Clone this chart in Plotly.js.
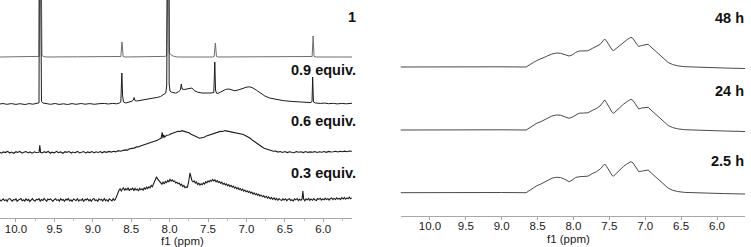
<!DOCTYPE html>
<html><head><meta charset="utf-8">
<script src="https://cdn.plot.ly/plotly-3.0.1.min.js"></script>
<style>html,body{margin:0;padding:0;background:#fff;} #chart{width:751px;height:247px;}</style>
</head><body><div id="chart"></div><script>
// ---------- data (ppm, relative intensity) ----------
const leftLabels = ["1", "0.9 equiv.", "0.6 equiv.", "0.3 equiv."];
const rightLabels = ["48 h", "24 h", "2.5 h"];
const tickVals = [10.0, 9.5, 9.0, 8.5, 8.0, 7.5, 7.0, 6.5, 6.0];
const tickText = ["10.0", "9.5", "9.0", "8.5", "8.0", "7.5", "7.0", "6.5", "6.0"];
const axisTitle = "f1 (ppm)";

const spec1 = [[10.21,0],[9.80,0.2],[9.72,0],[9.70,0.6],[9.686,250],[9.672,250],[9.662,1.5],[9.64,0.5],[9.60,0],[9.2,0.2],[8.66,0],[8.635,0.5],[8.62,15],[8.605,0.5],[8.58,0],[8.3,0.2],[8.10,0],[8.06,0.6],[8.04,1.5],[8.031,250],[8.015,250],[8.004,4],[7.99,2.5],[7.97,1.5],[7.94,0.6],[7.90,0],[7.44,0],[7.42,0.5],[7.405,14],[7.39,0.5],[7.37,0],[6.8,0.2],[6.17,0],[6.145,0.5],[6.132,21],[6.12,0.5],[6.09,0],[5.62,0]];

const spec09 = [[10.21,0],[10.17,0.5],[10.12,-0.3],[10.06,0.4],[10.0,-0.4],[9.95,0.3],[9.88,-0.5],[9.83,0.4],[9.78,-0.2],[9.72,0.4],[9.70,1.2],[9.693,300],[9.677,300],[9.668,2.5],[9.65,1],[9.60,0.4],[9.55,-0.3],[9.49,0.5],[9.44,-0.4],[9.38,0.2],[9.33,-0.5],[9.27,0.4],[9.22,-0.3],[9.15,0.5],[9.10,-0.2],[9.04,0.4],[8.98,-0.3],[8.92,0.3],[8.85,0.6],[8.80,0],[8.74,0.6],[8.69,0.2],[8.66,0.7],[8.635,2],[8.622,31],[8.612,8],[8.60,2],[8.57,1],[8.53,1.6],[8.49,2.8],[8.472,4],[8.462,6.5],[8.452,3.5],[8.43,3],[8.40,3.4],[8.35,4],[8.30,4.4],[8.25,5],[8.21,5.8],[8.16,6.6],[8.12,7.4],[8.08,9],[8.05,11],[8.038,18],[8.030,300],[8.014,300],[8.006,20],[7.995,13],[7.98,12],[7.95,11],[7.92,10.8],[7.88,12.5],[7.86,14],[7.848,20],[7.838,15],[7.81,14.5],[7.77,14.8],[7.73,15.2],[7.71,16],[7.68,13.5],[7.64,12],[7.58,11],[7.52,10.8],[7.46,11],[7.425,11.5],[7.412,42],[7.402,14],[7.39,10.8],[7.37,10.6],[7.32,12.2],[7.27,14.6],[7.23,15],[7.19,14],[7.15,13.2],[7.10,14.2],[7.05,15.8],[7.00,16.8],[6.96,17.2],[6.92,16.2],[6.87,13.8],[6.82,10.8],[6.76,8],[6.70,6],[6.62,4.6],[6.52,3.4],[6.42,2.6],[6.32,2],[6.22,1.5],[6.16,1.4],[6.146,3],[6.138,27],[6.128,2],[6.10,1],[6.04,0.6],[5.98,0.9],[5.93,0.3],[5.87,0.7],[5.82,0.1],[5.76,0.6],[5.70,0.2],[5.62,0.8]];

const spec06 = [[10.21,0],[10.19,-0.9],[10.16,0.4],[10.14,-0.3],[10.11,0.9],[10.08,-0.7],[10.06,0.2],[10.03,-1.0],[10.00,0.6],[9.98,-0.2],[9.95,0.8],[9.92,-0.8],[9.90,0.1],[9.87,0.7],[9.84,-0.6],[9.82,0.4],[9.79,-0.9],[9.76,0.5],[9.74,-0.2],[9.71,0.3],[9.70,0],[9.69,7],[9.68,0],[9.66,-0.7],[9.63,0.6],[9.61,-0.3],[9.58,0.8],[9.55,-0.9],[9.53,0.2],[9.50,-0.5],[9.47,0.9],[9.45,-0.4],[9.42,0.4],[9.39,-1.0],[9.36,0.6],[9.34,0.0],[9.31,0.8],[9.28,-0.7],[9.26,0.3],[9.23,-0.4],[9.20,0.9],[9.17,-0.6],[9.15,0.1],[9.12,0.7],[9.09,-0.8],[9.07,0.4],[9.04,-0.3],[9.01,0.8],[8.98,-0.6],[8.96,0.5],[8.93,-0.2],[8.90,0.7],[8.88,-0.5],[8.85,0.6],[8.82,0.0],[8.79,0.9],[8.76,0.2],[8.73,1.0],[8.70,0.4],[8.67,1.6],[8.64,1.1],[8.61,2.0],[8.58,2.4],[8.55,2.2],[8.52,3.5],[8.49,3.9],[8.46,4.2],[8.43,5.4],[8.40,5.5],[8.37,6.6],[8.34,7.4],[8.31,7.6],[8.28,9.0],[8.25,9.6],[8.22,10.6],[8.19,11.4],[8.16,12.0],[8.13,13.4],[8.11,14.2],[8.097,20],[8.087,14.2],[8.077,17.5],[8.065,15.2],[8.04,17.0],[8.01,17.3],[7.98,18.6],[7.95,19.6],[7.92,19.8],[7.89,21.0],[7.86,20.8],[7.84,21.6],[7.81,20.9],[7.78,20.2],[7.75,19.6],[7.72,18.0],[7.69,16.9],[7.66,16.1],[7.63,14.7],[7.61,14.1],[7.58,14.6],[7.55,15.0],[7.52,16.4],[7.49,17.1],[7.46,17.6],[7.43,19.0],[7.40,19.4],[7.37,20.3],[7.34,20.9],[7.31,20.8],[7.28,21.7],[7.25,21.2],[7.22,20.7],[7.19,20.9],[7.16,19.7],[7.13,19.5],[7.10,18.9],[7.07,18.3],[7.04,17.9],[7.01,16.6],[6.98,15.5],[6.95,14.0],[6.92,12.0],[6.89,10.2],[6.86,8.8],[6.83,6.8],[6.80,5.6],[6.77,4.0],[6.74,3.4],[6.71,2.2],[6.68,1.9],[6.65,1.0],[6.62,1.2],[6.59,0.2],[6.56,0.8],[6.53,-0.1],[6.50,0.7],[6.47,-0.3],[6.44,0.6],[6.41,0.2],[6.38,-0.4],[6.35,0.7],[6.32,0.0],[6.29,0.5],[6.26,-0.3],[6.23,0.8],[6.20,-0.1],[6.17,0.4],[6.14,0.1],[6.11,0.7],[6.08,-0.2],[6.05,0.6],[6.02,0.1],[5.99,0.8],[5.96,0.0],[5.93,0.9],[5.90,0.3],[5.87,0.6],[5.84,1.0],[5.81,0.3],[5.78,1.1],[5.75,0.5],[5.72,1.2],[5.69,0.6],[5.66,1.3],[5.63,0.9]];

const spec03 = [[10.21,0.4],[10.195,-1.0],[10.18,0.2],[10.165,1.1],[10.15,-0.6],[10.13,0.3],[10.115,-1.4],[10.10,0.9],[10.08,1.4],[10.065,-0.4],[10.05,-1.2],[10.03,0.6],[10.015,-0.1],[10.00,1.2],[9.985,-1.3],[9.97,-0.2],[9.95,0.9],[9.935,1.5],[9.92,-0.7],[9.90,0.2],[9.885,-1.1],[9.87,1.0],[9.85,-0.4],[9.835,0.6],[9.82,-1.5],[9.80,0.8],[9.785,1.3],[9.77,-0.3],[9.75,-1.0],[9.735,0.7],[9.72,0.1],[9.70,1.3],[9.685,-1.2],[9.67,0.4],[9.65,-0.5],[9.635,1.6],[9.62,-0.2],[9.60,-1.3],[9.585,0.9],[9.57,0.2],[9.55,1.1],[9.535,-0.8],[9.52,-1.4],[9.50,0.6],[9.485,1.2],[9.47,-0.4],[9.45,0.3],[9.435,-1.1],[9.42,1.4],[9.40,-0.2],[9.385,0.5],[9.37,-1.3],[9.35,0.9],[9.335,-0.1],[9.32,1.5],[9.30,-0.9],[9.285,0.1],[9.27,-1.4],[9.25,1.0],[9.235,0.4],[9.22,-0.6],[9.20,1.3],[9.185,-1.1],[9.17,0.2],[9.15,-0.3],[9.135,1.2],[9.12,-1.5],[9.10,0.7],[9.085,0.0],[9.07,1.4],[9.05,-0.8],[9.035,0.5],[9.02,-1.2],[9.00,0.9],[8.985,1.6],[8.97,-0.5],[8.95,0.1],[8.935,-1.3],[8.92,1.1],[8.90,-0.1],[8.885,0.8],[8.87,-1.0],[8.85,1.5],[8.835,-0.6],[8.82,0.3],[8.80,-1.2],[8.785,1.2],[8.77,0.2],[8.75,-0.9],[8.735,1.4],[8.72,-0.3],[8.705,0.9],[8.69,4],[8.675,7.5],[8.66,9.5],[8.645,11.2],[8.63,9.0],[8.615,10.8],[8.60,12.0],[8.585,9.6],[8.57,11.4],[8.555,10.1],[8.54,12.2],[8.525,9.3],[8.51,11.0],[8.495,10.4],[8.48,12.1],[8.465,9.2],[8.45,11.6],[8.435,10.0],[8.42,10.9],[8.405,8.9],[8.39,11.7],[8.375,10.2],[8.36,11.2],[8.345,9.8],[8.33,12.4],[8.315,10.6],[8.30,12.9],[8.285,11.4],[8.27,13.1],[8.255,12.2],[8.24,14.6],[8.225,13.3],[8.21,16.5],[8.195,18.6],[8.18,21.2],[8.17,23.2],[8.16,21.4],[8.145,20.2],[8.13,18.0],[8.115,17.1],[8.10,15.8],[8.085,17.9],[8.07,16.0],[8.055,18.6],[8.04,17.4],[8.025,19.5],[8.01,18.3],[7.995,20.6],[7.98,18.9],[7.965,20.2],[7.95,18.4],[7.935,19.1],[7.92,17.0],[7.905,17.8],[7.89,16.2],[7.875,16.9],[7.86,14.7],[7.845,15.8],[7.83,13.4],[7.815,14.6],[7.80,12.4],[7.785,13.1],[7.77,12.6],[7.755,17],[7.745,22],[7.735,27],[7.725,24],[7.71,19.5],[7.695,18.2],[7.68,19.1],[7.665,16.9],[7.65,18.0],[7.635,15.6],[7.62,16.9],[7.605,15.0],[7.59,16.3],[7.575,15.4],[7.56,17.2],[7.545,16.0],[7.53,18.3],[7.515,17.1],[7.50,19.2],[7.485,18.0],[7.47,19.6],[7.455,18.7],[7.44,20.6],[7.425,19.0],[7.41,20.1],[7.395,18.2],[7.38,19.4],[7.365,17.6],[7.35,18.4],[7.335,16.6],[7.32,17.9],[7.305,15.7],[7.29,16.9],[7.275,15.0],[7.26,16.1],[7.245,14.2],[7.23,15.4],[7.215,13.5],[7.20,14.7],[7.185,12.8],[7.17,13.9],[7.155,11.9],[7.14,13.0],[7.125,11.2],[7.11,12.3],[7.095,10.4],[7.08,11.5],[7.065,9.6],[7.05,10.9],[7.035,8.9],[7.02,10.0],[7.005,8.3],[6.99,9.2],[6.975,7.5],[6.96,8.6],[6.945,6.8],[6.93,7.9],[6.915,6.0],[6.90,7.2],[6.885,5.3],[6.87,6.4],[6.855,4.6],[6.84,5.9],[6.825,3.8],[6.81,5.0],[6.79,3.2],[6.775,4.4],[6.76,2.5],[6.74,3.7],[6.725,1.8],[6.71,3.2],[6.69,1.2],[6.675,2.6],[6.66,0.6],[6.64,2.1],[6.625,0.2],[6.61,1.7],[6.59,-0.3],[6.575,1.5],[6.56,0.4],[6.54,-0.6],[6.525,1.3],[6.51,0.0],[6.49,1.2],[6.475,-0.8],[6.46,0.6],[6.44,1.4],[6.425,-0.4],[6.41,0.3],[6.39,-0.9],[6.375,1.1],[6.36,0.2],[6.34,1.5],[6.325,-0.6],[6.31,0.7],[6.29,-0.2],[6.275,1.3],[6.265,9],[6.255,0.8],[6.24,-0.7],[6.225,1.2],[6.21,0.1],[6.19,1.6],[6.175,-0.4],[6.16,0.9],[6.14,-0.2],[6.125,1.5],[6.11,0.3],[6.09,-0.5],[6.075,1.4],[6.06,0.6],[6.04,1.8],[6.025,-0.1],[6.01,1.0],[5.99,0.2],[5.975,1.9],[5.96,0.4],[5.94,1.5],[5.925,-0.2],[5.91,1.2],[5.89,2.0],[5.875,0.3],[5.86,1.6],[5.84,0.6],[5.825,2.2],[5.81,0.9],[5.79,1.6],[5.775,0.4],[5.76,2.3],[5.74,1.0],[5.725,2.6],[5.71,0.8],[5.69,2.1],[5.675,1.3],[5.66,2.8],[5.645,1.2],[5.63,2.2]];

const spec48h = [[10.41,0],[10.0,0.2],[9.5,0],[9.0,0.2],[8.66,0],[8.62,2],[8.56,4.5],[8.51,6.5],[8.45,8],[8.38,10.5],[8.30,13],[8.24,14],[8.18,13.7],[8.12,12.5],[8.06,11],[8.02,12],[7.97,14.5],[7.92,16],[7.86,16.2],[7.80,16.2],[7.74,18.5],[7.68,20.5],[7.63,22.5],[7.59,26],[7.565,28],[7.54,26],[7.50,21],[7.46,17],[7.44,16.5],[7.40,19],[7.35,22],[7.30,25],[7.25,27.5],[7.20,29.7],[7.17,28.5],[7.13,24],[7.09,20.5],[7.05,21.5],[7.00,22.5],[6.96,22.7],[6.92,20],[6.86,16],[6.80,12],[6.74,8],[6.68,4.5],[6.62,2.5],[6.55,1.2],[6.45,0.3],[6.2,-0.5],[5.9,-1],[5.61,-1.5]];
const spec24h = [[10.41,0],[10.0,0.2],[9.5,0],[9.0,0.2],[8.66,0],[8.62,2],[8.56,4.5],[8.51,6.8],[8.45,8.5],[8.38,11],[8.30,14],[8.24,15],[8.18,14.8],[8.12,13.2],[8.06,11.7],[8.02,12.8],[7.97,15.2],[7.92,16.8],[7.86,17],[7.80,17.2],[7.74,19.5],[7.68,21.5],[7.63,24],[7.59,28],[7.565,30],[7.54,27.5],[7.50,22],[7.46,17.5],[7.44,16.7],[7.40,19.5],[7.35,23],[7.30,26],[7.25,28.5],[7.20,30.7],[7.17,29.5],[7.13,24.5],[7.09,21],[7.05,22],[7.00,22.6],[6.96,22.7],[6.92,20],[6.86,16],[6.80,12],[6.74,8],[6.68,4.5],[6.62,2.5],[6.55,1.2],[6.45,0.3],[6.2,-0.5],[5.9,-1],[5.61,-1.5]];
const spec25h = [[10.41,0],[10.0,0.2],[9.5,0],[9.0,0.2],[8.66,0],[8.62,2],[8.56,4.8],[8.51,7],[8.45,8.8],[8.38,11.5],[8.30,14.5],[8.24,15.4],[8.18,15.2],[8.12,13.4],[8.06,11],[8.02,12.5],[7.97,15.2],[7.92,16],[7.86,16.2],[7.80,16.5],[7.74,19],[7.68,21],[7.63,23.5],[7.59,26.8],[7.565,28.7],[7.54,26.5],[7.50,21],[7.46,17],[7.44,16.7],[7.40,19.8],[7.35,23.5],[7.30,26.5],[7.25,29],[7.20,31],[7.17,29.8],[7.13,25],[7.09,21],[7.05,21.5],[7.00,22.5],[6.96,22.7],[6.92,20],[6.86,16],[6.80,12],[6.74,8],[6.68,4.5],[6.62,2.5],[6.55,1.2],[6.45,0.3],[6.2,-0.4],[5.9,-0.9],[5.61,-1.3]];

// ---------- placement / style (not data) ----------
const W = 751, H = 247;
const leftOffsets = [161, 114, 65.7, 18];
const rightOffsets = [148.5, 85.5, 22.8];
const leftColors = ["#6e6e6e", "#1c1c1c", "#1c1c1c", "#1e1e1e"];
const leftWidths = [1, 1, 1.1, 1.1];
const leftLabelY = [17, 70, 121, 173];
const rightLabelY = [18, 91, 161];

const leftSpecs = [spec1, spec09, spec06, spec03];
const rightSpecs = [spec48h, spec24h, spec25h];

const traces = [];
leftSpecs.forEach((s, i) => {
  traces.push({
    x: s.map(p => p[0]), y: s.map(p => p[1] + leftOffsets[i]),
    type: "scatter", mode: "lines", xaxis: "x", yaxis: "y",
    line: {color: leftColors[i], width: leftWidths[i]}, hoverinfo: "skip", showlegend: false
  });
});
rightSpecs.forEach((s, i) => {
  traces.push({
    x: s.map(p => p[0]), y: s.map(p => p[1] + rightOffsets[i]),
    type: "scatter", mode: "lines", xaxis: "x2", yaxis: "y2",
    line: {color: "#4a4a4a", width: 1}, hoverinfo: "skip", showlegend: false
  });
});

const leftAxisPix = 218, rightAxisPix = 215.5;
const tickFont = {family: "Liberation Sans, Arial, sans-serif", size: 11.5, color: "#1a1a1a"};
const labelFont = {family: "Liberation Sans, Arial, sans-serif", size: 14.5, color: "#111", weight: "bold"};

const annotations = [];
leftLabels.forEach((t, i) => annotations.push({
  text: "<b>" + t + "</b>", xref: "paper", yref: "paper", x: 358 / W, y: 1 - leftLabelY[i] / H,
  xanchor: "right", yanchor: "middle", showarrow: false, font: labelFont
}));
rightLabels.forEach((t, i) => annotations.push({
  text: "<b>" + t + "</b>", xref: "paper", yref: "paper", x: 746 / W, y: 1 - rightLabelY[i] / H,
  xanchor: "right", yanchor: "middle", showarrow: false, font: labelFont
}));
annotations.push({text: axisTitle, xref: "paper", yref: "paper", x: 182 / W, y: 1 - 240.5 / H,
  xanchor: "center", yanchor: "middle", showarrow: false, font: {family: tickFont.family, size: 11.5, color: "#1a1a1a"}});
annotations.push({text: axisTitle, xref: "paper", yref: "paper", x: 568 / W, y: 1 - 238.5 / H,
  xanchor: "center", yanchor: "middle", showarrow: false, font: {family: tickFont.family, size: 11.5, color: "#1a1a1a"}});

const layout = {
  width: W, height: H, margin: {l: 0, r: 0, t: 0, b: 0},
  paper_bgcolor: "#fff", plot_bgcolor: "#fff",
  xaxis: {domain: [0, 352 / W], range: [10.208, 5.626], anchor: "y", showgrid: false, zeroline: false,
    showline: true, linecolor: "#a8a8a8", linewidth: 1, ticks: "outside", ticklen: 3, tickcolor: "#a8a8a8",
    ticklabelstandoff: -3,
    tickvals: tickVals, ticktext: tickText, tickfont: tickFont,
    minor: {dtick: 0.25, tick0: 0, ticks: "outside", ticklen: 2, tickcolor: "#bdbdbd"}},
  yaxis: {domain: [(H - leftAxisPix) / H, 1], range: [0, leftAxisPix], visible: false, fixedrange: true},
  xaxis2: {domain: [400.5 / W, 745 / W], range: [10.41, 5.61], anchor: "y2", showgrid: false, zeroline: false,
    showline: true, linecolor: "#a8a8a8", linewidth: 1, ticks: "outside", ticklen: 3, tickcolor: "#a8a8a8",
    ticklabelstandoff: -3,
    tickvals: tickVals, ticktext: tickText, tickfont: tickFont},
  yaxis2: {domain: [(H - rightAxisPix) / H, 1], range: [0, rightAxisPix], visible: false, fixedrange: true},
  annotations: annotations
};

Plotly.newPlot("chart", traces, layout, {staticPlot: true, displayModeBar: false});
</script></body></html>
